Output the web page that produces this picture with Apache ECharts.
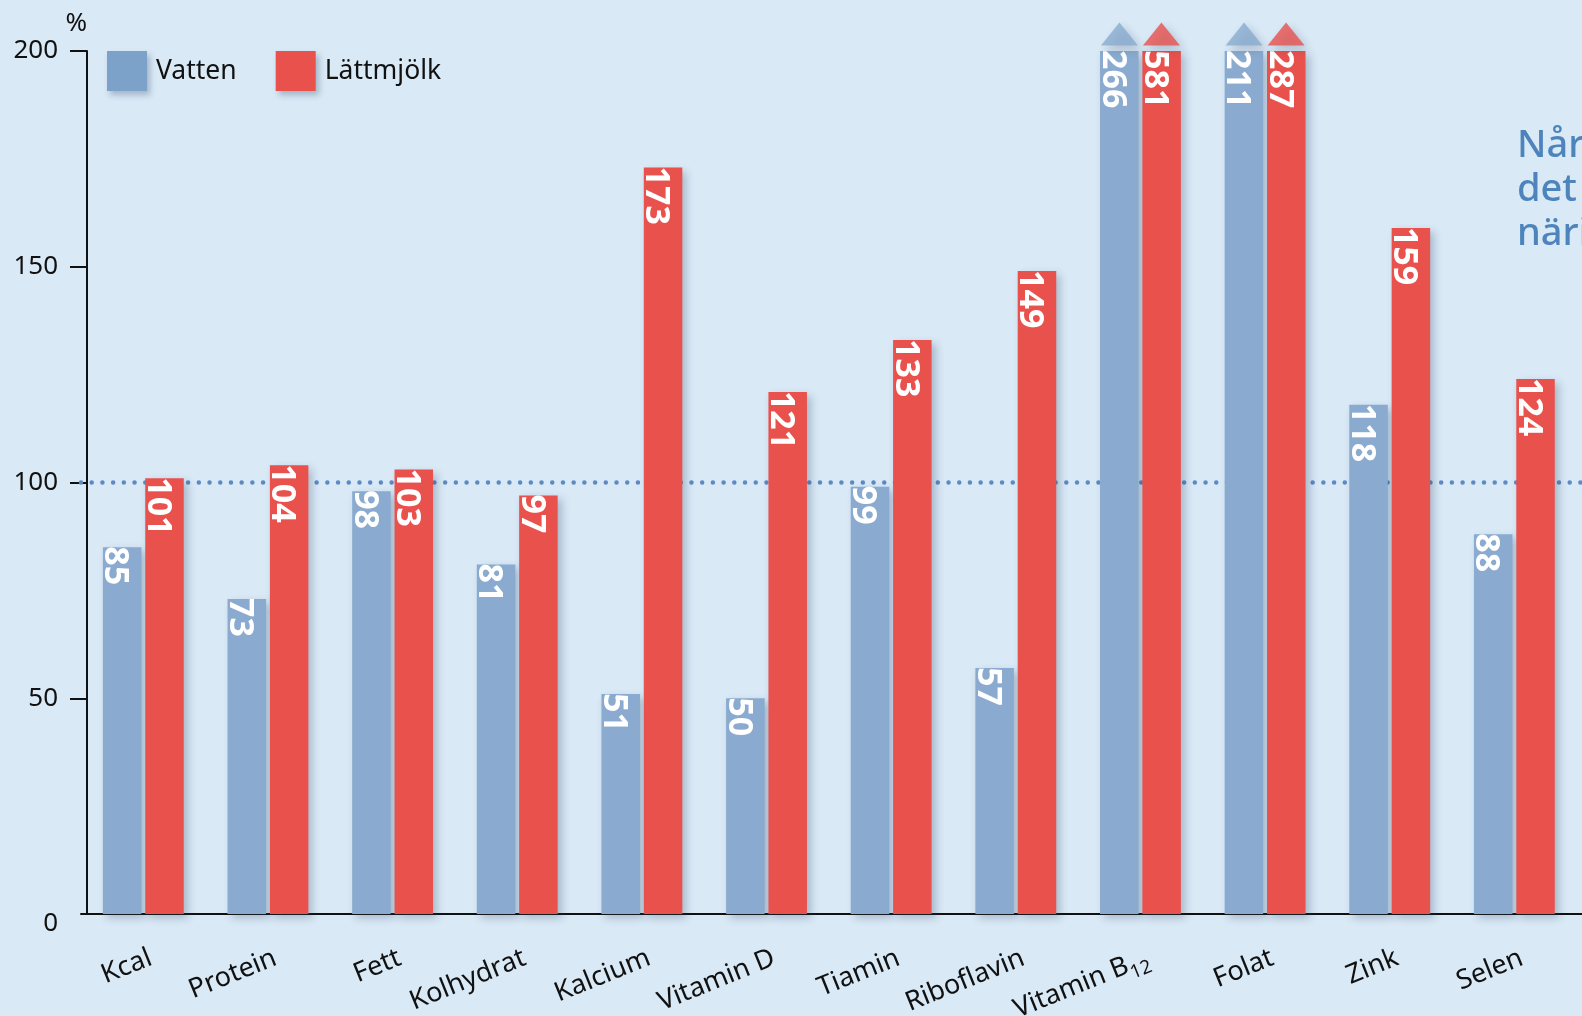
<!DOCTYPE html>
<html>
<head>
<meta charset="utf-8">
<script src="https://cdn.jsdelivr.net/npm/echarts@6/dist/echarts.min.js"></script>
<style>
html,body{margin:0;padding:0;background:#d9e9f6;}
#chart{width:1582px;height:1016px;}
</style>
</head>
<body>
<div id="chart"></div>
<script>
const categories = ['Kcal','Protein','Fett','Kolhydrat','Kalcium','Vitamin D','Tiamin','Riboflavin','Vitamin B12','Folat','Zink','Selen'];
const vatten = [85, 73, 98, 81, 51, 50, 99, 57, 266, 211, 118, 88];
const lattmjolk = [101, 104, 103, 97, 173, 121, 133, 149, 581, 287, 159, 124];
const seriesNames = ['Vatten', 'Lättmjölk'];
const yTicks = [0, 50, 100, 150, 200];
const referenceLevel = 100;
const noteLines = ['Når barnet', 'det är lätt att', 'näringsbehovet'];

const FONT = '"Noto Sans", "Open Sans", sans-serif';
const BLUE = '#8aabcf', BLUE_LEG = '#7da2c9', RED = '#e9514d';
const yMax = yTicks[yTicks.length - 1];
const shadow = {shadowBlur: 8, shadowColor: 'rgba(40,60,90,0.28)', shadowOffsetX: 4, shadowOffsetY: 4};

function barData(arr){ return arr.map(v => Math.min(v, yMax)); }
function arrowData(arr){ return arr.map((v, i) => v > yMax ? [i, yMax] : null).filter(Boolean); }
function barLabel(arr){
  return {
    show: true, position: 'insideTop', rotate: -90, align: 'left', verticalAlign: 'middle',
    distance: 0, offset: [-1, 7], color: '#fff', fontWeight: 'bold', fontSize: 34, fontFamily: FONT,
    formatter: p => String(arr[p.dataIndex])
  };
}

const chart = echarts.init(document.getElementById('chart'), null, {renderer: 'canvas'});
chart.setOption({
  backgroundColor: '#d9e9f6',
  animation: false,
  textStyle: {fontFamily: FONT},
  grid: {left: 81, top: 51, width: 124.64 * 13, height: 863, containLabel: false, outerBoundsMode: 'none'},
  legend: {
    left: 107, top: 51, padding: 0, itemWidth: 40, itemHeight: 40, itemGap: 39, icon: 'rect',
    textStyle: {fontSize: 26.5, color: '#111', fontFamily: FONT, padding: [3, 0, 0, 4]},
    itemStyle: {shadowBlur: 6, shadowColor: 'rgba(40,60,90,0.3)', shadowOffsetX: 3, shadowOffsetY: 4},
    data: [
      {name: seriesNames[0], itemStyle: {color: BLUE_LEG}},
      {name: seriesNames[1], itemStyle: {color: RED}}
    ]
  },
  xAxis: {
    type: 'category', data: categories, max: categories.length,
    axisLine: {lineStyle: {color: '#111', width: 2}},
    axisTick: {show: false},
    axisLabel: {
      interval: 0, rotate: 22, margin: 46, fontSize: 27, lineHeight: 38, color: '#111', fontFamily: FONT,
      padding: [0, -8, 0, 0],
      formatter: v => v == null ? '' : String(v).replace(/B12$/, 'B{sub|12}'),
      rich: {sub: {fontSize: 19, color: '#111', fontFamily: FONT, verticalAlign: 'bottom', lineHeight: 12}}
    }
  },
  yAxis: {
    type: 'value', min: 0, max: yMax, interval: 50, offset: -6,
    name: '%', nameLocation: 'end', nameGap: 14,
    nameTextStyle: {fontSize: 26, color: '#111', align: 'right', fontFamily: FONT},
    axisLine: {show: true, lineStyle: {color: '#111', width: 2}},
    axisTick: {show: true, length: 17, lineStyle: {color: '#111', width: 2}, customValues: yTicks.filter(v => v > 0)},
    axisLabel: {
      fontSize: 26, color: '#111', margin: 29, fontFamily: FONT,
      formatter: v => v === 0 ? '{z|0}' : String(v),
      rich: {z: {fontSize: 26, color: '#111', fontFamily: FONT, padding: [20, 0, 0, 0]}}
    },
    splitLine: {show: false}
  },
  graphic: [{
    type: 'text', left: 1517, top: 124, z: 10,
    style: {text: noteLines.join('\n'), font: '500 38px "Noto Sans", sans-serif', lineHeight: 44, fill: '#4d84bc'}
  }],
  series: [
    {
      name: seriesNames[0], type: 'bar', data: barData(vatten), barWidth: 38.5, barGap: '10%', z: 3,
      itemStyle: Object.assign({color: BLUE}, shadow),
      label: barLabel(vatten),
      markLine: {
        z: 1, silent: true, symbol: 'none', animation: false,
        label: {show: false},
        lineStyle: {color: '#5b8ac4', width: 4.5, type: [0.01, 10.7], cap: 'round'},
        data: [{yAxis: referenceLevel}]
      }
    },
    {
      name: seriesNames[1], type: 'bar', data: barData(lattmjolk), barWidth: 38.5, barGap: '10%', z: 3,
      itemStyle: Object.assign({color: RED}, shadow),
      label: barLabel(lattmjolk)
    },
    {
      name: seriesNames[0], type: 'scatter', data: arrowData(vatten), symbol: 'triangle',
      symbolSize: [37, 23], symbolOffset: [-21, -17], clip: false, z: 3,
      itemStyle: Object.assign({color: BLUE}, shadow)
    },
    {
      name: seriesNames[1], type: 'scatter', data: arrowData(lattmjolk), symbol: 'triangle',
      symbolSize: [37, 23], symbolOffset: [21, -17], clip: false, z: 3,
      itemStyle: Object.assign({color: RED}, shadow)
    }
  ]
});
</script>
</body>
</html>
